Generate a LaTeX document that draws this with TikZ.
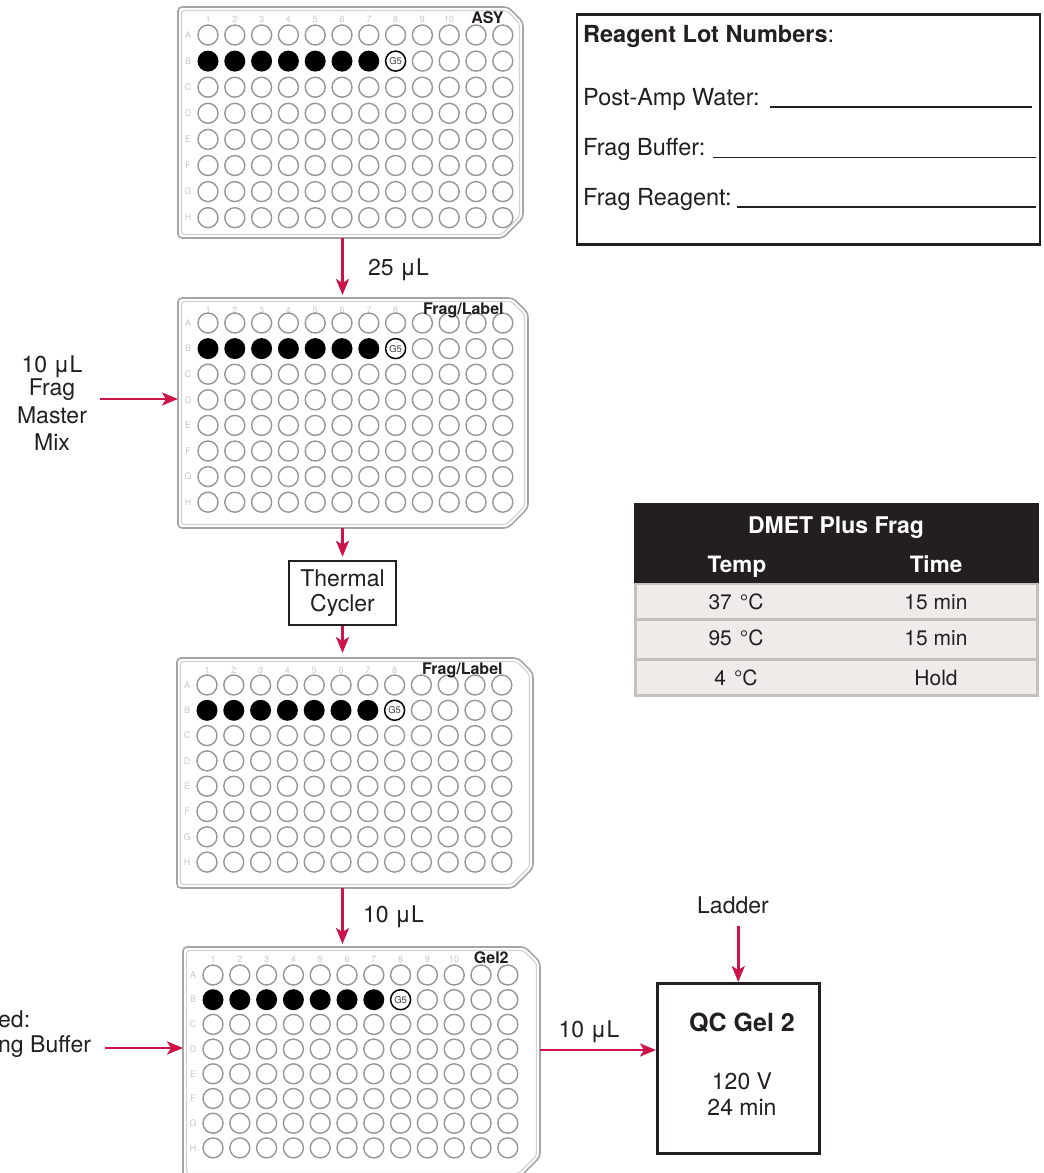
\documentclass[tikz,border=0pt]{standalone}
\usepackage{fontspec}
\setmainfont{TeX Gyre Heros}
\usetikzlibrary{arrows.meta}
\definecolor{crim}{RGB}{204,20,72}
\definecolor{ink}{RGB}{35,31,32}
\definecolor{rowfill}{RGB}{239,235,232}
\definecolor{rowedge}{RGB}{200,192,184}
\definecolor{plateout}{RGB}{165,165,165}
\definecolor{platein}{RGB}{210,210,210}
\definecolor{wellgray}{RGB}{150,150,150}
\definecolor{faint}{RGB}{200,200,200}
\tikzset{
  arr/.style={draw=crim, line width=2.5pt, -{Stealth[length=16pt,width=13pt,inset=4pt]}},
  txt/.style={font=\fontsize{23}{25}\selectfont, text=ink, inner sep=0pt, anchor=base},
  btxt/.style={txt, font=\fontsize{23.5}{25}\selectfont\bfseries},
  rtxt/.style={txt, font=\fontsize{23.5}{25}\selectfont, anchor=base west},
  celltxt/.style={txt, font=\fontsize{21}{23}\selectfont},
  headtxt/.style={txt, text=white, font=\fontsize{22.5}{24}\selectfont\bfseries},
  platebox/.style={inner sep=0pt, draw=none},
  colnum/.style={font=\fontsize{9}{10}\selectfont, text=faint, inner sep=0pt},
  well/.style={draw=wellgray, line width=1.4pt, fill=white},
  gfive/.style={circle, draw=black, line width=1.5pt, fill=white, minimum size=20pt, inner sep=0pt, font=\fontsize{9.5}{10}\selectfont, text=ink!85},
  platelabel/.style={font=\fontsize{16}{18}\selectfont\bfseries, text=ink, anchor=base east, inner sep=0pt},
  boxed/.style={draw=ink, line width=2.5pt, inner sep=0pt},
  uline/.style={draw=ink, line width=1.4pt},
}
\newcommand\wellplate[9]{%
\begin{scope}[shift={(#2,#3)}]
\pgfmathsetmacro\pw{#4}\pgfmathsetmacro\ph{#5}
\node[platebox, minimum width=#4pt, minimum height=#5pt, anchor=north west] (#1) at (0,0) {};
\draw[draw=plateout, line width=1.6pt, fill=white, rounded corners=4pt] (0,0) -- ({\pw-15},0) -- (\pw,15) -- (\pw,{\ph-20}) -- ({\pw-20},\ph) -- (0,\ph) -- cycle;
\draw[draw=platein, line width=1.1pt, rounded corners=3pt] (3.5,3.5) -- ({\pw-16.5},3.5) -- ({\pw-3.5},16.5) -- ({\pw-3.5},{\ph-21.5}) -- ({\pw-21.5},{\ph-3.5}) -- (3.5,{\ph-3.5}) -- cycle;
\foreach \cc in {1,...,#9}{\node[colnum] (#1n\cc) at ({30+(\cc-1)*26.8},12) {\cc};}
\foreach \rr/\rowl in {1/A,2/B,3/C,4/D,5/E,6/F,7/G,8/H}{\node[colnum] (#1r\rowl) at (10,{#7+(\rr-1)*#8}) {\rowl};}
\foreach \cc in {1,...,12}{\foreach \rr in {1,3,4,5,6,7,8}{\draw[well] ({30+(\cc-1)*26.8},{#7+(\rr-1)*#8}) circle[radius=10pt];}}
\foreach \cc in {9,...,12}{\draw[well] ({30+(\cc-1)*26.8},{#7+#8}) circle[radius=10pt];}
\foreach \cc in {1,...,7}{\fill[black] ({30+(\cc-1)*26.8},{#7+#8}) circle[radius=10.5pt];}
\node[gfive] (#1g) at ({30+7*26.8},{#7+#8}) {G5};
\node[platelabel] (#1lab) at ({30+11*26.8+1},16) {#6};
\end{scope}}
\begin{document}
\begin{tikzpicture}[x=1pt,y=-1pt]
\fill[white] (0,0) rectangle (1044,1173);
\useasboundingbox (0,0) rectangle (1044,1173);

% plates
\wellplate{p1}{178}{7}{345}{231}{ASY}{28}{26.1}{10}
\wellplate{p2}{178}{298}{350}{230}{Frag/Label}{25}{25.6}{8}
\wellplate{p3}{177}{658}{356}{230}{Frag/Label}{27}{25.3}{8}
\wellplate{p4}{183}{947}{357}{230}{Gel2}{28}{24.7}{10}

% thermal cycler
\node[boxed, minimum width=107pt, minimum height=64pt, align=center, font=\fontsize{23}{25}\selectfont, text=ink] (tc) at (342.5,593) {Thermal\\Cycler};

% vertical arrows
\draw[arr, shorten >=3pt] (p1.south -| tc.north) -- (p2.north -| tc.north);
\node[txt, anchor=base west] (l25) at (368,275) {25 μL};
\draw[arr, shorten >=3pt] (p2.south -| tc.north) -- (tc.north);
\draw[arr, shorten >=5pt] (tc.south) -- (p3.north -| tc.south);
\draw[arr, shorten >=3pt] (p3.south -| tc.south) -- (p4.north -| tc.south);
\node[txt, anchor=base west] (l10a) at (363,922) {10 μL};

% frag master mix
\node[txt] (fm1) at (52,372) {10 μL};
\node[txt] (fm2) at (52,395) {Frag};
\node[txt] (fm3) at (52,423) {Master};
\node[txt] (fm4) at (52,450) {Mix};
\coordinate (fmstart) at (100,399);
\draw[arr] (fmstart) -- (fmstart -| p2.west);

% loading buffer (cut off)
\node[txt, anchor=base west] (lb1) at (-2,1027) {ed:};
\node[txt, anchor=base west] (lb2) at (-2,1052) {ng Buffer};
\coordinate (lbstart) at (105,1048);
\draw[arr] (lbstart) -- (lbstart -| p4.west);

% QC gel
\node[boxed, minimum width=162pt, minimum height=170pt, anchor=north west] (qc) at (656,982) {};
\node[txt, font=\fontsize{25}{27}\selectfont\bfseries] (qct) at (742,1031) {QC Gel 2};
\node[txt] (qcv) at (742,1089) {120 V};
\node[txt] (qcm) at (742,1115) {24 min};
\node[txt] (ld) at (733,913) {Ladder};
\draw[arr, shorten <=12pt] (ld.south -| qc.north) -- (qc.north);
\coordinate (q6) at (656,1050);
\draw[arr] (q6 -| p4.east) -- (q6);
\node[txt] (l10b) at (589,1037) {10 μL};

% reagent lot numbers
\node[boxed, minimum width=463pt, minimum height=230pt, anchor=north west] (rl) at (575.5,13) {};
\node[rtxt] (rl0) at (583,42) {\textbf{Reagent Lot Numbers}:};
\node[rtxt] (rl1) at (583,105) {Post-Amp Water:};
\node[rtxt] (rl2) at (583,155.5) {Frag Buffer:};
\node[rtxt] (rl3) at (583,205) {Frag Reagent:};
\draw[uline] (770,107) -- (1032,107);
\draw[uline] (713,157.5) -- (1036,157.5);
\draw[uline] (737,207) -- (1036,207);

% table
\node[fill=ink, inner sep=0pt, minimum width=405pt, minimum height=80pt, anchor=north west] (thead) at (634,503) {};
\fill[rowedge] (634,583) rectangle (1039,697);
\fill[rowfill] (637,585) rectangle (1036,618);
\fill[rowfill] (637,621) rectangle (1036,658);
\fill[rowfill] (637,661) rectangle (1036,694);
\node[headtxt, font=\fontsize{23}{25}\selectfont\bfseries] (tt) at (836,533) {DMET Plus Frag};
\node[headtxt] (th1) at (737,572) {Temp};
\node[headtxt] (th2) at (936,572) {Time};
\node[celltxt] (c11) at (736,609) {37\hspace{8pt}°C};
\node[celltxt] (c12) at (936,609) {15 min};
\node[celltxt] (c21) at (736,645) {95\hspace{8pt}°C};
\node[celltxt] (c22) at (936,645) {15 min};
\node[celltxt] (c31) at (736,685) {4\hspace{8pt}°C};
\node[celltxt] (c32) at (936,685) {Hold};
\end{tikzpicture}
\end{document}
